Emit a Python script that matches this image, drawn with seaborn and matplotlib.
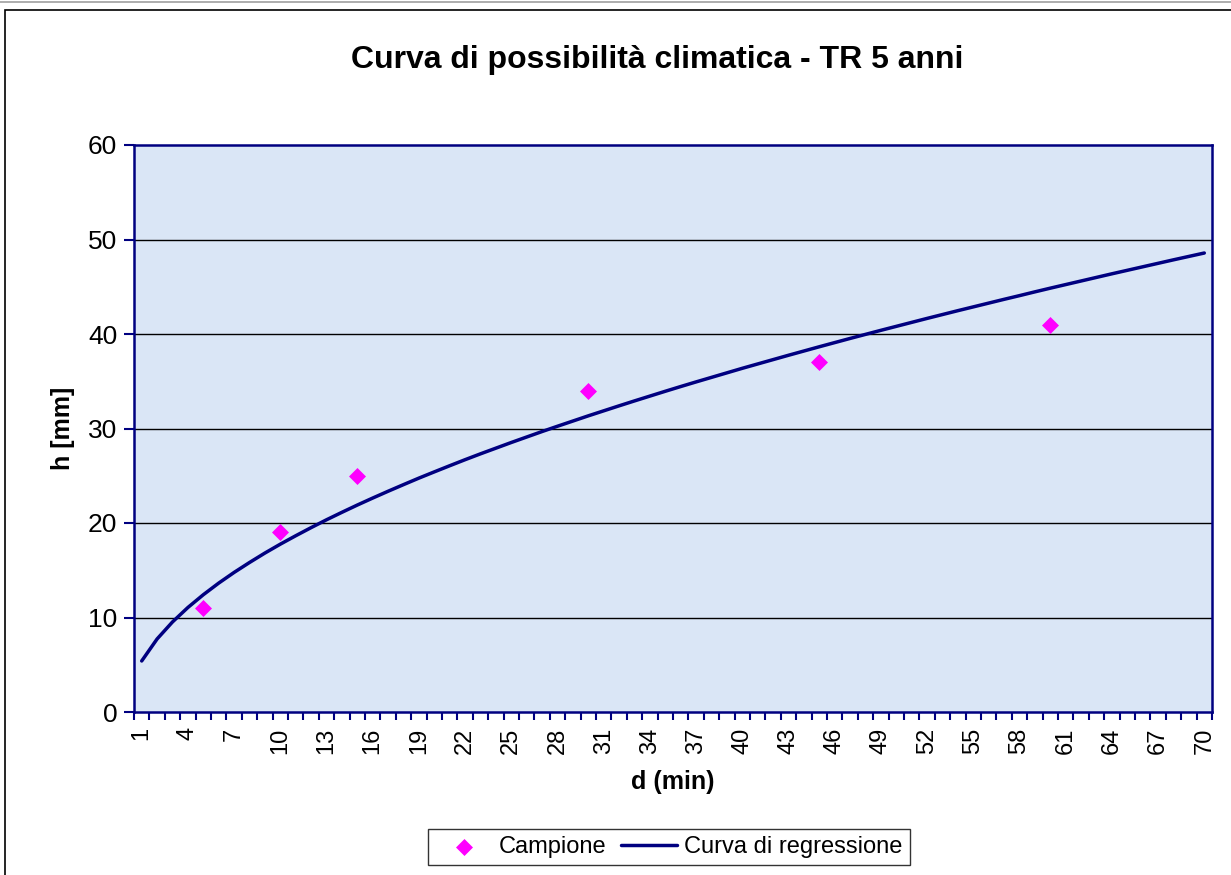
import numpy as np
import pandas as pd
import matplotlib
matplotlib.use("Agg")
import matplotlib.pyplot as plt
from matplotlib.patches import Rectangle
from matplotlib.lines import Line2D
import seaborn as sns

# durations (min) of the regression curve, one per category
durata = list(range(1, 71))
h_regressione = [
    5.40, 7.73, 9.53, 11.06, 12.41, 13.64, 14.77, 15.82, 16.82, 17.76,
    18.65, 19.51, 20.34, 21.13, 21.90, 22.64, 23.36, 24.06, 24.75, 25.41,
    26.06, 26.70, 27.32, 27.92, 28.52, 29.10, 29.68, 30.24, 30.79, 31.34,
    31.87, 32.40, 32.92, 33.43, 33.94, 34.44, 34.93, 35.41, 35.89, 36.37,
    36.83, 37.29, 37.75, 38.20, 38.65, 39.09, 39.53, 39.96, 40.39, 40.81,
    41.23, 41.65, 42.06, 42.47, 42.87, 43.27, 43.67, 44.06, 44.46, 44.85,
    45.23, 45.61, 45.99, 46.37, 46.74, 47.11, 47.48, 47.85, 48.21, 48.57,
]

# sample points
d_campione = [5, 10, 15, 30, 45, 60]
h_campione = [11, 19, 25, 34, 37, 41]

y_ticks = [0, 10, 20, 30, 40, 50, 60]
x_labels = list(range(1, 71, 3))

navy = "#000080"
magenta = "#ff00ff"

sns.set_style("white")
plt.rcParams["font.family"] = ["Liberation Sans", "DejaVu Sans"]
plt.rcParams["text.color"] = "black"
plt.rcParams["axes.labelcolor"] = "black"
plt.rcParams["xtick.color"] = "black"
plt.rcParams["ytick.color"] = "black"

curve = pd.DataFrame({"d": durata, "h": h_regressione})
sample = pd.DataFrame({"d": d_campione, "h": h_campione})

fig = plt.figure(figsize=(12.31, 8.75), dpi=100)
ax = fig.add_axes([134 / 1231, 1 - 712 / 875, (1212 - 134) / 1231, (712 - 145) / 875])
ax.set_facecolor("#dae6f6")

for y in y_ticks[1:-1]:
    ax.axhline(y, color="black", lw=1.0, zorder=1)

sns.scatterplot(data=sample, x="d", y="h", ax=ax, marker="D", s=75,
                color=magenta, edgecolor=magenta, linewidth=0, zorder=3,
                label="Campione")
sns.lineplot(data=curve, x="d", y="h", ax=ax, color=navy, lw=2.5, zorder=4,
             label="Curva di regressione")

ax.set_xlim(0.5, 70.5)
ax.set_ylim(0, 60)
ax.set_yticks(y_ticks)
ax.set_xticks(x_labels)
ax.set_xticklabels([str(v) for v in x_labels], rotation=90, va="top", ha="center")
ax.set_xticks(np.arange(0.5, 71, 1), minor=True)
ax.tick_params(axis="x", which="major", length=0, pad=11, labelsize=17, labelcolor="black")
ax.tick_params(axis="x", which="minor", length=6, width=1.5, color=navy, direction="out", bottom=True)
ax.tick_params(axis="y", which="major", length=7, width=1.5, color=navy, direction="out",
               left=True, labelsize=19, pad=5, labelcolor="black")

for side in ax.spines.values():
    side.set_color(navy)
    side.set_linewidth(1.8)

ax.set_xlabel("d (min)", fontsize=18, fontweight="bold", labelpad=12)
ax.set_ylabel("h [mm]", fontsize=18, fontweight="bold", labelpad=9)

fig.text(657 / 1231, 1 - 60 / 875, "Curva di possibilità climatica - TR 5 anni",
         ha="center", va="center", fontsize=23, fontweight="bold")

ax.get_legend().remove()
handles, labels = ax.get_legend_handles_labels()
leg = fig.legend(handles, labels, loc="center", bbox_to_anchor=(669 / 1231, 1 - 847 / 875),
                 ncol=2, frameon=True, fancybox=False, fontsize=17, handlelength=2.4,
                 handletextpad=0.3, columnspacing=0.6, borderpad=0.3)
leg.get_frame().set_edgecolor("black")
leg.get_frame().set_linewidth(1.0)

# outer frame of the chart
fig.add_artist(Line2D([0, 1], [1 - 2 / 875, 1 - 2 / 875], color="#a0a0a0", lw=1.2,
                      transform=fig.transFigure))
fig.add_artist(Rectangle((5 / 1231, -0.01), 1.0, 1 - 10 / 875 + 0.01, fill=False,
                         edgecolor="black", lw=1.2, transform=fig.transFigure))

fig.savefig("out.png", dpi=100)
